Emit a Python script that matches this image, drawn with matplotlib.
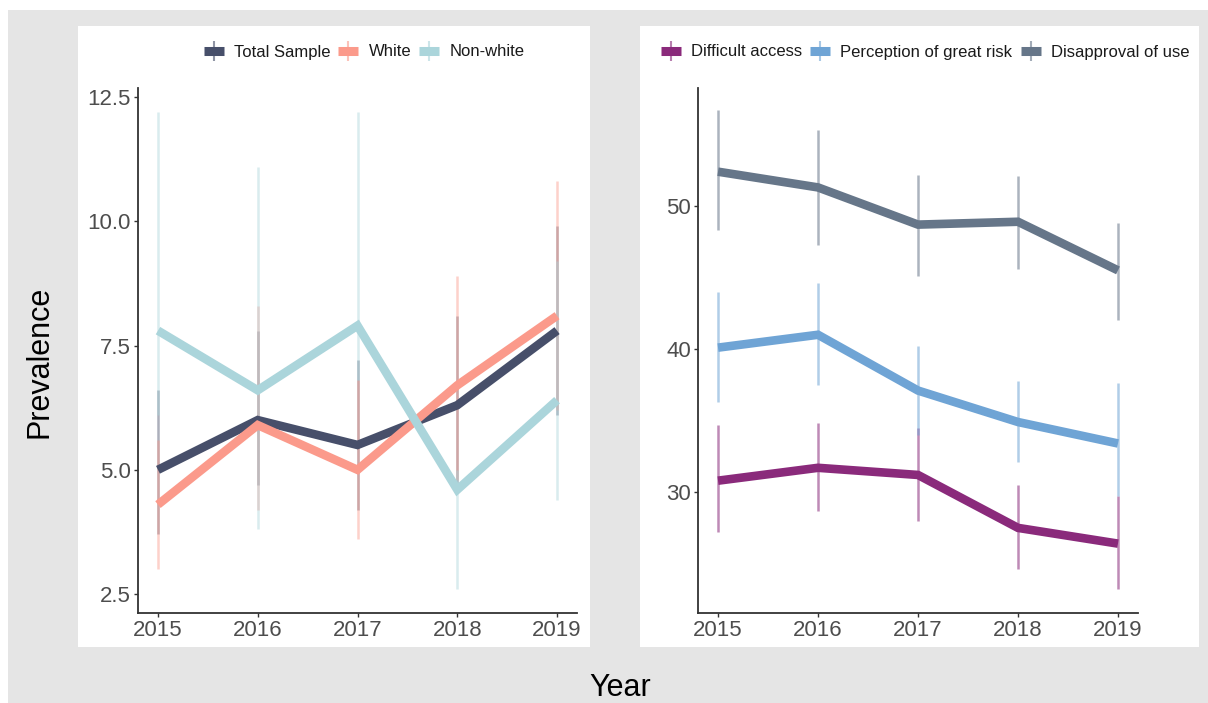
import numpy as np
import matplotlib.pyplot as plt
from matplotlib.patches import Rectangle
from matplotlib.lines import Line2D
from matplotlib.legend_handler import HandlerTuple

plt.rcParams['font.family'] = ['Liberation Sans', 'DejaVu Sans']

years = [2015, 2016, 2017, 2018, 2019]

# left panel - prevalence by race
race_labels = ['Total Sample', 'White', 'Non-white']
race_colors = ['#474f6a', '#fb9a8b', '#abd5db']
total_mean = [5.0, 6.0, 5.5, 6.3, 7.8]
total_lo = [3.7, 4.7, 4.2, 4.7, 6.1]
total_hi = [6.6, 7.8, 7.2, 8.1, 9.9]
white_mean = [4.3, 5.9, 5.0, 6.7, 8.1]
white_lo = [3.0, 4.2, 3.6, 4.8, 6.2]
white_hi = [5.6, 8.3, 6.8, 8.9, 10.8]
nonwhite_mean = [7.8, 6.6, 7.9, 4.6, 6.4]
nonwhite_lo = [6.1, 3.8, 6.8, 2.6, 4.4]
nonwhite_hi = [12.2, 11.1, 12.2, 5.0, 9.2]

# right panel - attitudes
att_labels = ['Difficult access', 'Perception of great risk', 'Disapproval of use']
att_colors = ['#8a2a7b', '#6fa4d5', '#667689']
access_mean = [30.8, 31.7, 31.2, 27.5, 26.4]
access_lo = [27.2, 28.7, 28.0, 24.6, 23.2]
access_hi = [34.7, 34.8, 34.5, 30.5, 29.7]
risk_mean = [40.1, 41.0, 37.1, 34.9, 33.4]
risk_lo = [36.3, 37.5, 34.0, 32.1, 29.7]
risk_hi = [44.0, 44.6, 40.2, 37.8, 37.6]
disapp_mean = [52.4, 51.3, 48.7, 48.9, 45.5]
disapp_lo = [48.3, 47.3, 45.1, 45.6, 42.0]
disapp_hi = [56.7, 55.3, 52.2, 52.1, 48.8]

W, H = 1208, 703


def px_box(x0, y0, x1, y1):
    # pixel box (from top-left) -> figure fraction
    return (x0 / W, 1 - y1 / H, (x1 - x0) / W, (y1 - y0) / H)


fig = plt.figure(figsize=(W / 100, H / 100), dpi=100)
fig.patch.set_facecolor('white')

def add_rect(box, color):
    x, y, w, h = px_box(*box)
    fig.add_artist(Rectangle((x, y), w, h, transform=fig.transFigure,
                             facecolor=color, edgecolor='none', zorder=-5))

add_rect((8, 10, 1208, 703), '#e5e5e5')
add_rect((78, 26, 590, 647), 'white')
add_rect((640, 26, 1199, 647), 'white')

ax1 = fig.add_axes(px_box(138, 88, 577, 613))
ax2 = fig.add_axes(px_box(698, 88, 1138, 613))


def style_axis(ax):
    ax.set_facecolor('none')
    for s in ['top', 'right']:
        ax.spines[s].set_visible(False)
    for s in ['left', 'bottom']:
        ax.spines[s].set_color('#333333')
        ax.spines[s].set_linewidth(1.3)
    ax.tick_params(axis='both', length=3, width=1, color='#333333',
                   labelsize=16, labelcolor='#4d4d4d', pad=2)
    ax.set_xlim(2014.8, 2019.2)
    ax.set_xticks(years)


def draw_series(ax, means, los, his, colors, bar_alpha):
    for lo, hi, c in zip(los, his, colors):
        ax.vlines(years, lo, hi, colors=c, lw=1.8, alpha=bar_alpha, zorder=1)
    for m, c in zip(means, colors):
        ax.plot(years, m, color=c, lw=6.2, solid_joinstyle='miter',
                solid_capstyle='butt', zorder=2)
    handles = []
    for c in colors:
        handles.append((Line2D([], [], color=c, lw=6.5, solid_capstyle='butt'),
                        Line2D([], [], color=c, marker='|', ms=14, mew=1.5,
                               ls='none', alpha=0.6)))
    return handles


style_axis(ax1)
ax1.set_ylim(2.12, 12.68)
ax1.set_yticks([2.5, 5.0, 7.5, 10.0, 12.5])
ax1.set_yticklabels(['2.5', '5.0', '7.5', '10.0', '12.5'])
h1 = draw_series(ax1,
                 [total_mean, white_mean, nonwhite_mean],
                 [total_lo, white_lo, nonwhite_lo],
                 [total_hi, white_hi, nonwhite_hi],
                 race_colors, 0.45)

style_axis(ax2)
ax2.set_ylim(21.55, 58.25)
ax2.set_yticks([30, 40, 50])
h2 = draw_series(ax2,
                 [access_mean, risk_mean, disapp_mean],
                 [access_lo, risk_lo, disapp_lo],
                 [access_hi, risk_hi, disapp_hi],
                 att_colors, 0.55)

leg_kw = dict(loc='center', ncol=3, frameon=False, fontsize=12,
              handlelength=1.2, handletextpad=0.6, columnspacing=0.5,
              handler_map={tuple: HandlerTuple(ndivide=1)},
              bbox_transform=fig.transFigure, labelcolor='#1a1a1a')
ax1.legend(h1, race_labels, bbox_to_anchor=(364 / W, 1 - 52 / H), **leg_kw)
ax2.legend(h2, att_labels, bbox_to_anchor=(925 / W, 1 - 52 / H), **leg_kw)

fig.text(40 / W, 1 - 362 / H, 'Prevalence', rotation=90, ha='center',
         va='center', fontsize=22, color='black')
fig.text(620 / W, 0.0, 'Year', ha='center', va='bottom',
         fontsize=22, color='black')

plt.savefig('out.png', dpi=100)
